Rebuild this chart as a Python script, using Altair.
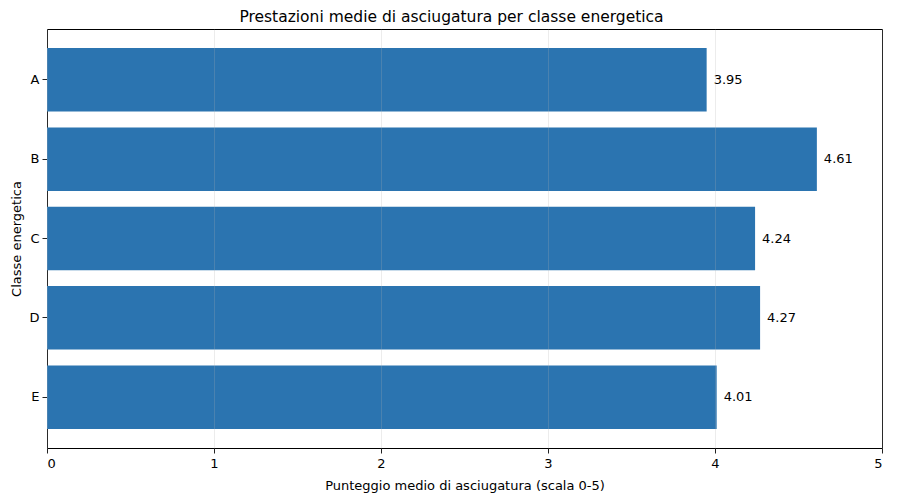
import altair as alt
import pandas as pd

classes = ["A", "B", "C", "D", "E"]
scores = [3.95, 4.61, 4.24, 4.27, 4.01]

df = pd.DataFrame({"Classe": classes, "Punteggio": scores})
df["Etichetta"] = [f"{v:.2f}" for v in scores]

FONT = "DejaVu Sans"

y_enc = alt.Y(
    "Classe:N",
    sort=classes,
    title="Classe energetica",
    scale=alt.Scale(paddingInner=0.2, paddingOuter=0.24),
    axis=alt.Axis(
        labelFontSize=13, titleFontSize=13, ticks=True, tickSize=5, tickWidth=1,
        labelPadding=3, titlePadding=5, domain=False, grid=False,
        tickColor="#222222", labelColor="#000000", titleColor="#000000",
        titleFontWeight="normal",
    ),
)

x_enc = alt.X(
    "Punteggio:Q",
    title="Punteggio medio di asciugatura (scala 0-5)",
    scale=alt.Scale(domain=[0, 5], nice=False),
    axis=alt.Axis(
        values=[0, 1, 2, 3, 4, 5], format="d", labelFontSize=13, titleFontSize=13,
        tickSize=5, tickWidth=1, labelPadding=4, titlePadding=9, domain=False,
        grid=True, gridColor="#b0b0b0", gridOpacity=0.3, gridWidth=0.8,
        tickColor="#222222", labelColor="#000000", titleColor="#000000",
        titleFontWeight="normal", zindex=1,
    ),
)

bars = alt.Chart(df).mark_bar(color="#2b74b0").encode(y=y_enc, x=x_enc)

labels = alt.Chart(df).mark_text(
    align="left", baseline="middle", dx=7, fontSize=13, font=FONT, color="#000000"
).encode(y=alt.Y("Classe:N", sort=classes), x="Punteggio:Q", text="Etichetta:N")

chart = (bars + labels).properties(
    width=835,
    height=419,
    autosize=alt.AutoSizeParams(type="none"),
    padding={"left": 39, "top": 21, "right": 10, "bottom": 46},
    title=alt.TitleParams(
        "Prestazioni medie di asciugatura per classe energetica",
        fontSize=15.5, fontWeight="normal", font=FONT, color="#000000",
        anchor="middle", offset=4, dx=-13,
    ),
).configure(font=FONT).configure_view(
    stroke="#000000", strokeWidth=1
).configure_axis(labelFont=FONT, titleFont=FONT)

chart.save("out.html", embed_options={"renderer": "svg", "actions": False})
